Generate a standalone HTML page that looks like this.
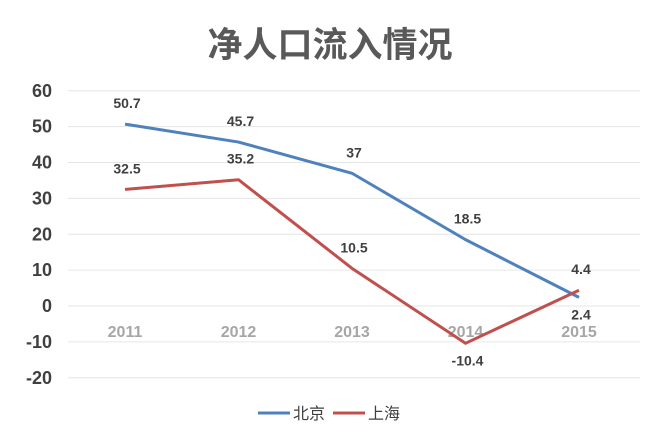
<!DOCTYPE html>
<html><head><meta charset="utf-8"><style>
html,body{margin:0;padding:0;background:#fff;width:651px;height:437px;overflow:hidden}
svg text{font-family:"Liberation Sans","Noto Sans CJK SC",sans-serif}
</style></head><body>
<svg id="chart" width="651" height="437" xmlns="http://www.w3.org/2000/svg">
<text x="330" y="57" text-anchor="middle" font-size="35" font-weight="bold" fill="#595959">净人口流入情况</text>
<g id="grid"></g><g id="yaxis"></g><g id="xaxis"></g><g id="series"></g><g id="labels"></g>
<g>
<line x1="258" y1="413" x2="290" y2="413" stroke="#4f81bd" stroke-width="3"/>
<text x="293" y="419" font-size="16" fill="#404040">北京</text>
<line x1="333" y1="413" x2="365" y2="413" stroke="#c0504d" stroke-width="3"/>
<text x="368" y="419" font-size="16" fill="#404040">上海</text>
</g>
</svg>
<script>
const categories=["2011","2012","2013","2014","2015"];
const beijing=[50.7,45.7,37,18.5,2.4];
const shanghai=[32.5,35.2,10.5,-10.4,4.4];
const yTicks=[60,50,40,30,20,10,0,-10,-20];
const NS="http://www.w3.org/2000/svg";
function y(v){return 306-(v*3.5875);}
function x(i){return 125+i*113.5;}
function mk(tag,attrs,parent){const e=document.createElementNS(NS,tag);for(const k in attrs)e.setAttribute(k,attrs[k]);document.getElementById(parent).appendChild(e);return e;}
yTicks.forEach(t=>{
 const g=mk("line",{x1:68,x2:640,y1:y(t),y2:y(t),stroke:"#e6e6e6","stroke-width":1},"grid");
 
 
 const l=mk("text",{x:52,y:y(t)+6,"text-anchor":"end","font-size":"18","font-weight":"bold",fill:"#404040"},"yaxis");
 l.textContent=t;
 
 
});
categories.forEach((c,i)=>{
 const l=mk("text",{x:x(i),y:337,"text-anchor":"middle","font-size":"16","font-weight":"bold",fill:"#a6a6a6"},"xaxis");
 l.textContent=c;
 
 
});
function series(vals,color,name,below){
 const p=mk("polyline",{points:vals.map((v,i)=>x(i)+","+y(v)).join(" "),fill:"none",stroke:color,"stroke-width":3,"stroke-linejoin":"round"},"series");
 
 
 vals.forEach((v,i)=>{
  const dy=below(i)?22:-16;
  const t=mk("text",{x:x(i)+2,y:y(v)+dy,"text-anchor":"middle","font-size":"14","font-weight":"bold",fill:"#404040"},"labels");
  t.textContent=v;
  
  
 });
}
series(beijing,"#4f81bd","beijing",i=>i===4);
series(shanghai,"#c0504d","shanghai",i=>i===3);
</script>
</body></html>
